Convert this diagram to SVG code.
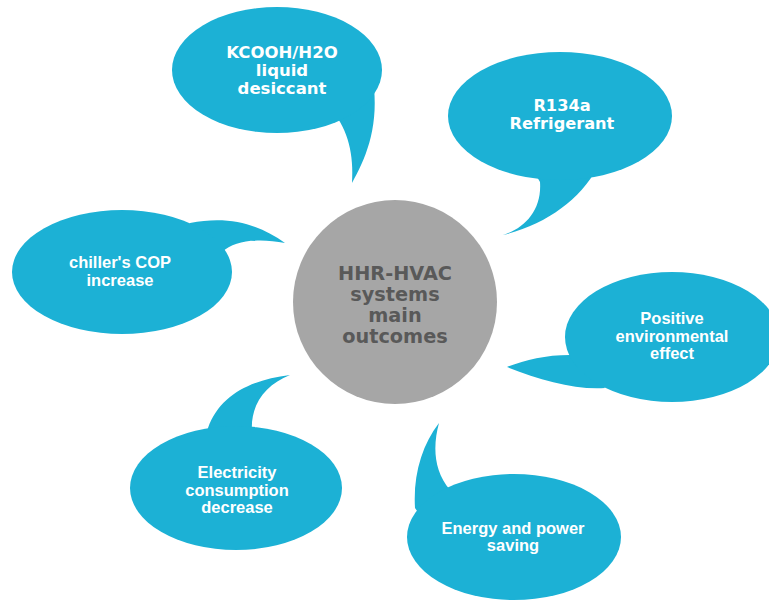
<svg xmlns="http://www.w3.org/2000/svg" width="769" height="600" viewBox="0 0 769 600">
  <style>
    .bub { fill: #1CB1D5; stroke: none; }
    .v { font-family: "DejaVu Sans", Verdana, sans-serif; font-weight: bold; fill: #FFFFFF; text-anchor: middle; }
    .a { font-family: "Liberation Sans", Arial, sans-serif; font-weight: bold; fill: #FFFFFF; text-anchor: middle; font-size: 16.5px; }
    .c { font-family: "DejaVu Sans", Verdana, sans-serif; font-weight: bold; fill: #595959; text-anchor: middle; font-size: 19.3px; }
  </style>
  <rect width="769" height="600" fill="#FFFFFF"/>

  <g id="connectors">
    <path class="bub" d="M 333 112 C 348 130, 354 155, 352 183 C 365 160, 378 130, 374 88 Z"/>
    <path class="bub" d="M 533 170 L 540 182 C 542 210, 525 228, 503 235 C 545 225, 580 200, 597 168 Z"/>
    <path class="bub" d="M 185 232 L 190 223 C 230 215, 260 225, 285 243 C 260 238, 235 240, 222 252 Z"/>
    <path class="bub" d="M 578 348 L 570 355 C 545 355, 525 360, 507 367 C 540 380, 575 390, 605 388 Z"/>
    <path class="bub" d="M 205 438 L 208 428 C 220 395, 250 380, 290 375 C 265 385, 250 405, 252 432 Z"/>
    <path class="bub" d="M 422 518 L 415 508 C 413 475, 422 445, 439 423 C 433 445, 433 470, 450 490 Z"/>
  </g>

  <g id="center">
    <circle cx="395" cy="302" r="102" fill="#A6A6A6"/>
    <text class="c" x="395" y="280">HHR-HVAC</text>
    <text class="c" x="395" y="301">systems</text>
    <text class="c" x="395" y="322">main</text>
    <text class="c" x="395" y="343">outcomes</text>
  </g>

  <g id="kcooh">
    <ellipse class="bub" cx="277" cy="70" rx="105" ry="63"/>
    <text class="v" font-size="16.5" x="282" y="58">KCOOH/H2O</text>
    <text class="v" font-size="16.5" x="282" y="76">liquid</text>
    <text class="v" font-size="16.5" x="282" y="94">desiccant</text>
  </g>

  <g id="r134a">
    <ellipse class="bub" cx="560" cy="116" rx="112" ry="64"/>
    <text class="v" font-size="16.2" x="562" y="111">R134a</text>
    <text class="v" font-size="16.2" x="562" y="129">Refrigerant</text>
  </g>

  <g id="chiller">
    <ellipse class="bub" cx="122" cy="272" rx="110" ry="62"/>
    <text class="a" x="120" y="268">chiller's COP</text>
    <text class="a" x="120" y="286">increase</text>
  </g>

  <g id="positive">
    <ellipse class="bub" cx="672" cy="337" rx="107" ry="65"/>
    <text class="a" x="672" y="324">Positive</text>
    <text class="a" x="672" y="342">environmental</text>
    <text class="a" x="672" y="359">effect</text>
  </g>

  <g id="electricity">
    <ellipse class="bub" cx="236" cy="488" rx="106" ry="62"/>
    <text class="a" x="237" y="478">Electricity</text>
    <text class="a" x="237" y="496">consumption</text>
    <text class="a" x="237" y="513">decrease</text>
  </g>

  <g id="energy">
    <ellipse class="bub" cx="514" cy="537" rx="107" ry="63"/>
    <text class="a" x="513" y="534">Energy and power</text>
    <text class="a" x="513" y="551">saving</text>
  </g>
</svg>
